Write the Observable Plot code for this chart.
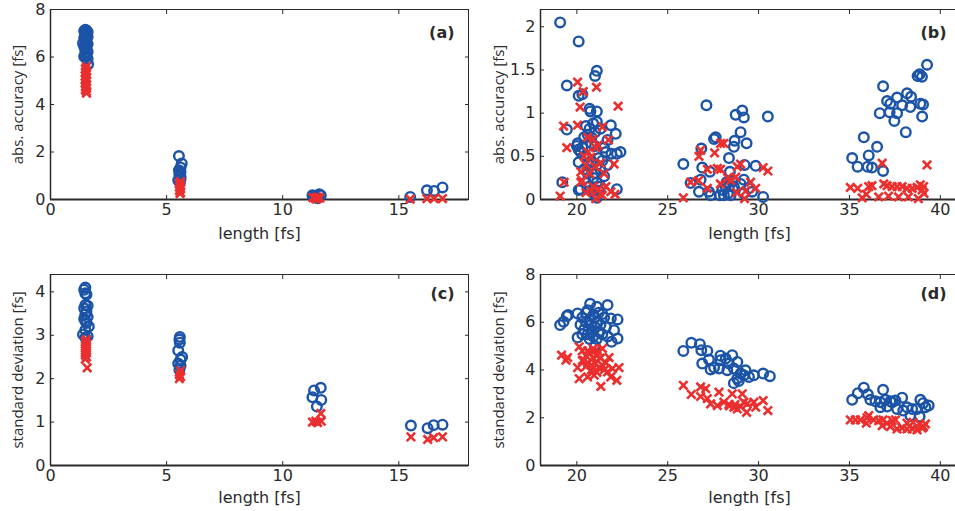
<!DOCTYPE html>
<html><head><meta charset="utf-8">
<script src="https://cdn.jsdelivr.net/npm/d3@7"></script>
<script src="https://cdn.jsdelivr.net/npm/@observablehq/plot@0.6"></script>
<style>
html,body{margin:0;padding:0;background:#fff;overflow:hidden;}
#fig{position:relative;width:960px;height:511px;overflow:hidden;}
#fig > svg{position:absolute;}
</style></head><body><div id="fig"></div>
<script>
// ---- tick labels ----
const xTicksLeft = [0, 5, 10, 15];
const xTicksRight = [20, 25, 30, 35, 40];
const yTicksA = [0, 2, 4, 6, 8];
const yTicksB = [0, 0.5, 1, 1.5, 2];
const yTicksC = [0, 1, 2, 3, 4];
const yTicksD = [0, 2, 4, 6, 8];
const xLabel = "length [fs]";
const yLabels = ["abs. accuracy [fs]", "abs. accuracy [fs]", "standard deviation [fs]", "standard deviation [fs]"];
const tags = ["(a)", "(b)", "(c)", "(d)"];

// ---- panel (a): [length, value] ----
const aCircles = [[1.5,7.15],[1.55,7.12],[1.45,7.1],[1.6,7.05],[1.5,7.0],[1.55,6.95],[1.5,6.9],[1.6,6.85],[1.45,6.8],[1.5,6.72],[1.55,6.65],[1.4,6.58],[1.6,6.55],[1.5,6.5],[1.45,6.45],[1.55,6.4],[1.5,6.3],[1.6,6.22],[1.5,6.15],[1.55,6.08],[1.45,6.02],[1.5,5.98],[1.6,5.92],[1.62,5.69],
  [5.53,1.83],[5.65,1.52],[5.6,1.35],[5.53,1.23],[5.6,1.16],[5.55,1.05],[5.6,0.95],[5.5,0.81],[5.57,0.7],[5.6,0.86],
  [11.28,0.18],[11.57,0.22],[11.42,0.11],[11.64,0.18],[11.5,0.05],[11.35,0.15],
  [15.49,0.11],[16.21,0.39],[16.52,0.36],[16.88,0.51]];
const aCrosses = [[1.55,5.6],[1.5,5.5],[1.55,5.42],[1.5,5.35],[1.55,5.28],[1.5,5.2],[1.55,5.12],[1.5,5.05],[1.55,4.98],[1.5,4.9],[1.55,4.82],[1.5,4.75],[1.55,4.68],[1.5,4.62],[1.55,4.55],[1.55,4.48],
  [5.6,0.75],[5.55,0.68],[5.6,0.6],[5.55,0.52],[5.6,0.45],[5.55,0.38],[5.6,0.3],[5.58,0.25],
  [11.3,0.08],[11.4,0.05],[11.5,0.1],[11.6,0.06],[11.45,0.02],
  [15.49,0.02],[16.21,0.04],[16.52,0.04],[16.88,0.04]];

// ---- panel (b) ----
const bCircles = [[19.08,2.05],[20.1,1.83],[19.45,1.32],[21.1,1.49],[21.0,1.43],[20.1,1.2],[20.3,1.22],[19.45,0.81],[19.2,0.2],[20.7,1.05],[20.75,1.02],[21.1,1.02],[20.0,0.62],[20.1,0.58],[20.2,0.55],[20.05,0.65],[21.87,0.86],[22.14,0.76],[21.69,0.69],[22.2,0.53],[21.9,0.53],[22.4,0.55],[21.7,0.4],[20.1,0.43],[20.2,0.12],[20.1,0.11],[22.2,0.12],[21.5,0.27],[20.5,0.85],[20.7,0.82],[20.9,0.88],[21.1,0.9],[20.6,0.75],[20.8,0.72],[20.4,0.72],[21.3,0.82],[21.0,0.78],[20.3,0.6],[20.5,0.5],[20.8,0.45],[21.0,0.62],[21.2,0.48],[21.4,0.45],[21.6,0.55],[20.4,0.35],[20.6,0.3],[20.9,0.25],[21.1,0.2],[20.7,0.15],[20.9,0.1],[21.0,0.05],[21.1,0.02],[21.3,0.15],[21.2,0.1],[20.6,0.42],[21.5,0.6],[21.1,0.4],[20.5,0.2],[21.0,0.3],[21.3,0.35],[20.8,0.65],
  [27.13,1.09],[28.74,0.98],[29.1,1.03],[29.19,0.95],[30.51,0.96],[29.01,0.78],[27.55,0.70],[27.64,0.72],[28.68,0.68],[29.34,0.65],[28.64,0.61],[26.85,0.59],[28.37,0.48],[25.86,0.41],[26.9,0.37],[27.32,0.32],[28.42,0.32],[29.23,0.40],[29.84,0.39],[26.26,0.19],[26.81,0.23],[26.72,0.09],[27.27,0.09],[27.36,0.05],[27.87,0.05],[28.09,0.05],[28.31,0.07],[28.46,0.05],[28.0,0.11],[28.37,0.15],[28.64,0.15],[28.24,0.2],[29.01,0.18],[29.19,0.23],[29.47,0.13],[29.19,0.07],[29.65,0.09],[30.25,0.03],[28.55,0.21],[28.19,0.15],
  [39.27,1.56],[38.86,1.45],[38.99,1.42],[38.75,1.43],[36.85,1.31],[37.07,1.14],[37.62,1.18],[38.17,1.23],[38.39,1.19],[37.25,1.11],[37.9,1.09],[38.35,1.07],[38.9,1.11],[39.05,1.10],[36.67,1.0],[37.21,1.01],[37.62,1.0],[37.47,0.91],[39.0,0.96],[38.1,0.78],[35.79,0.72],[36.52,0.61],[35.15,0.48],[36.06,0.51],[35.45,0.38],[36.0,0.38],[36.24,0.37],[36.85,0.33]];
const bCrosses = [[19.08,0.04],[20.04,1.36],[21.08,1.30],[20.35,1.25],[20.18,1.07],[22.27,1.08],[19.27,0.85],[20.04,0.86],[19.45,0.6],[21.17,0.63],[21.74,0.69],[22.05,0.41],[21.41,0.84],[20.22,0.2],[20.3,0.22],[21.87,0.09],[21.04,0.01],[20.77,0.49],[20.59,0.72],[21.04,0.6],[21.3,0.42],[20.22,0.32],[20.5,0.4],[20.7,0.3],[20.9,0.15],[21.2,0.12],[20.6,0.55],[21.5,0.3],[20.8,0.1],[21.4,0.05],[20.4,0.5],[21.0,0.38],[20.9,0.7],[21.6,0.15],[20.5,0.08],[22.1,0.06],[19.3,0.2],
  [25.86,0.02],[26.81,0.57],[26.72,0.50],[27.58,0.54],[27.91,0.65],[28.09,0.65],[27.18,0.35],[27.73,0.36],[27.91,0.35],[28.83,0.38],[29.01,0.41],[30.25,0.37],[30.51,0.33],[26.26,0.2],[26.7,0.22],[27.18,0.13],[29.56,0.2],[29.84,0.13],[29.23,0.01],[28.46,0.22],[28.74,0.26],[27.9,0.18],[28.8,0.08],[29.3,0.1],[28.3,0.25],
  [36.8,0.42],[39.27,0.40],[35.05,0.14],[35.45,0.13],[36.06,0.15],[36.24,0.16],[36.89,0.18],[37.07,0.16],[37.35,0.15],[37.62,0.15],[37.9,0.15],[38.17,0.13],[38.45,0.13],[38.72,0.14],[38.9,0.17],[39.0,0.11],[39.08,0.15],[35.93,0.06],[36.61,0.03],[37.15,0.04],[37.7,0.03],[38.24,0.03],[38.79,0.01],[35.7,0.02],[39.1,0.07]];

// ---- panel (c) ----
const cCircles = [[1.5,4.1],[1.45,4.05],[1.5,3.97],[1.55,3.94],[1.5,3.7],[1.6,3.68],[1.45,3.62],[1.55,3.55],[1.5,3.48],[1.6,3.42],[1.45,3.38],[1.5,3.33],[1.55,3.28],[1.65,3.2],[1.5,3.12],[1.4,3.02],[1.6,2.98],[1.5,2.95],
  [5.57,2.96],[5.55,2.9],[5.57,2.83],[5.5,2.65],[5.67,2.5],[5.6,2.44],[5.5,2.35],[5.55,2.2],[5.6,2.3],
  [11.28,1.57],[11.35,1.73],[11.64,1.79],[11.66,1.51],[11.47,1.36],
  [15.52,0.92],[16.24,0.86],[16.5,0.93],[16.88,0.94]];
const cCrosses = [[1.55,2.9],[1.5,2.85],[1.55,2.8],[1.5,2.75],[1.55,2.7],[1.5,2.65],[1.55,2.6],[1.5,2.55],[1.55,2.5],[1.5,2.45],[1.58,2.25],
  [5.6,2.18],[5.55,2.1],[5.6,2.05],[5.55,2.0],
  [11.28,1.0],[11.42,1.02],[11.5,0.99],[11.66,1.02],[11.64,1.2],
  [15.52,0.66],[16.24,0.6],[16.5,0.64],[16.88,0.66]];

// ---- panel (d) ----
const dCircles = [[19.08,5.88],[19.27,6.02],[19.45,6.26],[19.52,6.3],[20.04,6.37],[20.73,6.77],[21.1,6.65],[21.69,6.72],[21.87,6.16],[22.24,6.12],[22.05,5.67],[22.24,5.32],[21.91,5.18],[21.0,5.0],[20.04,5.36],
  [20.3,6.2],[20.5,6.0],[20.7,6.1],[20.9,6.3],[21.1,6.0],[21.3,5.9],[20.4,5.7],[20.6,5.5],[20.8,5.6],[21.0,5.8],[21.2,5.6],[21.4,5.5],[20.3,5.5],[20.5,6.4],[20.9,5.4],[21.5,6.2],[21.2,6.4],[20.6,6.5],[21.0,6.2],[20.2,5.9],[21.6,5.8],[21.7,5.4],[20.7,5.3],[21.1,5.3],[21.4,6.35],[20.8,5.9],
  [25.86,4.8],[26.3,5.14],[26.77,5.08],[26.85,4.83],[27.18,4.8],[26.9,4.27],[27.27,4.44],[27.36,4.02],[27.91,4.41],[27.82,4.06],[28.37,4.27],[28.55,4.62],[28.28,3.99],[28.64,3.45],[28.91,3.54],[29.28,3.99],[29.19,3.78],[29.74,3.78],[30.25,3.85],[30.62,3.74],[27.55,4.1],[28.83,4.34],[28.64,4.06],[29.01,3.85],[29.47,3.71],[28.83,3.64],[28.19,4.48],[27.9,4.6],
  [35.15,2.75],[35.46,3.03],[35.79,3.26],[36.01,2.98],[36.15,2.75],[36.85,3.17],[36.43,2.69],[36.7,2.65],[36.98,2.75],[37.25,2.69],[37.53,2.72],[37.9,2.84],[36.7,2.44],[37.07,2.47],[37.62,2.37],[38.17,2.44],[38.45,2.37],[38.9,2.75],[39.05,2.61],[39.36,2.51],[38.35,2.09],[38.86,2.05],[38.72,2.37],[39.18,2.44],[37.96,2.3],[37.35,2.65]];
const dCrosses = [[19.16,4.62],[19.4,4.41],[19.49,4.52],[20.13,4.97],[21.41,4.9],[21.77,4.52],[20.04,4.1],[20.13,3.64],[20.59,3.71],[20.95,3.78],[21.32,3.31],[21.87,3.71],[22.2,3.57],[21.96,4.06],[22.32,4.1],[21.69,3.92],
  [20.3,4.8],[20.5,4.6],[20.7,4.7],[20.9,4.5],[21.1,4.6],[20.4,4.4],[20.6,4.3],[20.8,4.2],[21.0,4.3],[21.2,4.1],[21.4,4.2],[20.3,4.4],[20.6,4.8],[21.0,4.8],[21.3,4.5],[20.8,4.0],[21.1,3.9],[21.5,4.0],[20.5,4.15],[21.6,4.3],[20.9,4.9],[21.2,4.75],
  [25.86,3.36],[26.3,2.98],[26.81,3.29],[27.09,3.22],[26.81,2.89],[27.18,2.8],[27.82,3.07],[28.55,3.0],[27.36,2.58],[27.73,2.51],[28.09,2.65],[28.37,2.56],[28.64,2.44],[28.83,2.37],[29.01,2.47],[29.19,2.65],[29.1,3.0],[29.38,2.58],[29.74,2.65],[29.84,2.44],[29.34,2.23],[30.25,2.72],[30.51,2.3],[28.4,2.5],[28.7,2.55],
  [35.05,1.91],[35.33,1.91],[35.6,1.91],[35.93,1.77],[36.06,2.09],[35.97,2.0],[36.34,1.91],[36.61,1.88],[36.85,1.91],[37.07,1.77],[37.35,1.88],[37.53,1.91],[37.62,1.53],[37.9,1.57],[38.17,1.53],[38.45,1.53],[38.72,1.49],[39.0,1.57],[39.18,1.74],[38.17,1.77],[38.5,1.81],[38.86,1.74],[39.08,1.63],[36.8,1.67],[37.25,1.63]];

const BLUE = "#1b54a7";
const RED = "#eb2f2e";
const INK = "#2a2a2a";
const fig = document.getElementById("fig");

function panel(o) {
  const svg = Plot.plot({
    width: o.width, height: o.height,
    marginLeft: o.mL, marginRight: o.mR, marginTop: o.mT, marginBottom: o.mB,
    style: {fontFamily: "'DejaVu Sans', sans-serif", fontSize: "16px", color: INK, background: "white", overflow: "visible"},
    x: {domain: o.xDomain},
    y: {domain: o.yDomain},
    marks: [
      Plot.axisX({ticks: o.xTicks, anchor: "bottom", tickSize: -4, tickPadding: 8, tickFormat: d => String(d), label: null}),
      Plot.axisX({ticks: o.xTicks, anchor: "top", tickSize: -4, tickFormat: () => "", label: null}),
      Plot.axisY({ticks: o.yTicks, anchor: "left", tickSize: -4, tickPadding: 9, tickFormat: d => String(d), label: null}),
      Plot.axisY({ticks: o.yTicks, anchor: "right", tickSize: -4, tickFormat: () => "", label: null}),
      Plot.frame({stroke: INK, strokeWidth: 1}),
      Plot.ruleY([o.yDomain[0]], {stroke: INK, strokeWidth: 2}),
      Plot.ruleX([o.xDomain[0]], {stroke: INK, strokeWidth: 1.5}),
      Plot.dot(o.circles, {x: d => d[0], y: d => d[1], r: 4.8, stroke: BLUE, strokeWidth: 2.4, fill: "none"}),
      Plot.dot(o.crosses, {x: d => d[0], y: d => d[1], symbol: "times", r: 3.9, stroke: RED, strokeWidth: 2.6}),
      Plot.text([o.tag], {frameAnchor: "top-right", dx: o.tagDx, dy: o.tagDy, textAnchor: "end", lineAnchor: "middle", fontWeight: "bold"}),
      Plot.text([xLabel], {frameAnchor: "bottom", dy: o.xLabDy, textAnchor: "middle", lineAnchor: "middle"}),
      Plot.text([o.yLabel], {frameAnchor: "left", dx: o.yLabDx, rotate: -90, textAnchor: "middle", lineAnchor: "middle",
        fontFamily: "'Open Sans', sans-serif", fontSize: 15})
    ]
  });
  svg.style.left = o.left + "px";
  svg.style.top = o.top + "px";
  fig.appendChild(svg);
}

panel({left: 0, top: 0, width: 480, height: 250, mL: 50, mR: 12, mT: 9, mB: 51,
  xDomain: [0, 18], yDomain: [0, 8], xTicks: xTicksLeft, yTicks: yTicksA,
  circles: aCircles, crosses: aCrosses, tag: tags[0], yLabel: yLabels[0],
  tagDx: -14, tagDy: 23, xLabDy: 34, yLabDx: -32});
panel({left: 480, top: 0, width: 480, height: 250, mL: 60, mR: 2, mT: 9, mB: 51,
  xDomain: [18, 41], yDomain: [0, 2.2], xTicks: xTicksRight, yTicks: yTicksB,
  circles: bCircles, crosses: bCrosses, tag: tags[1], yLabel: yLabels[1],
  tagDx: -12, tagDy: 23, xLabDy: 34, yLabDx: -41});
panel({left: 0, top: 260, width: 480, height: 251, mL: 50, mR: 12, mT: 14, mB: 46,
  xDomain: [0, 18], yDomain: [0, 4.4], xTicks: xTicksLeft, yTicks: yTicksC,
  circles: cCircles, crosses: cCrosses, tag: tags[2], yLabel: yLabels[2],
  tagDx: -14, tagDy: 19, xLabDy: 32, yLabDx: -32});
panel({left: 480, top: 260, width: 480, height: 251, mL: 60, mR: 2, mT: 14, mB: 46,
  xDomain: [18, 41], yDomain: [0, 8], xTicks: xTicksRight, yTicks: yTicksD,
  circles: dCircles, crosses: dCrosses, tag: tags[3], yLabel: yLabels[3],
  tagDx: -12, tagDy: 19, xLabDy: 32, yLabDx: -41});
</script>
</body></html>
